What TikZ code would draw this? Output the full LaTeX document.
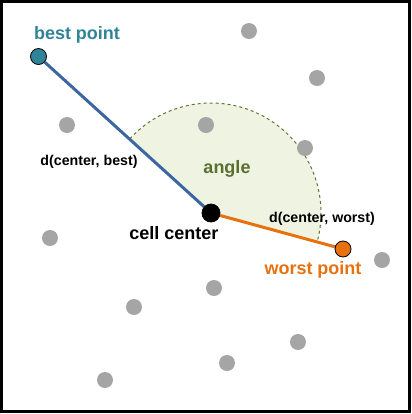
\documentclass[tikz,border=0pt]{standalone}
\usepackage{fontspec}
\setmainfont{Liberation Sans}
\usetikzlibrary{backgrounds}

\definecolor{bestteal}{HTML}{2F8497}
\definecolor{bestblue}{HTML}{3C66A0}
\definecolor{worstorange}{HTML}{E8710F}
\definecolor{othergray}{HTML}{A5A5A5}
\definecolor{anglefill}{HTML}{EEF3E2}
\definecolor{angletext}{HTML}{5B7030}
\definecolor{angledash}{HTML}{5E7634}

\tikzset{
	dot/.style={circle, inner sep=0pt, minimum size=8pt},
	otherdot/.style={dot, fill=othergray},
	keydot/.style={dot, draw=black, line width=0.4pt},
	biglabel/.style={font=\fontsize{9}{10}\selectfont\bfseries},
	distlabel/.style={font=\fontsize{7.1}{8.5}\selectfont\bfseries}
}

\begin{document}
\begin{tikzpicture}[x=0.5pt, y=-0.5pt]
		\useasboundingbox (0,0) rectangle (412,414);

		% --- outer frame ---
		\draw[line width=1.5pt] (1.5,1.5) rectangle (409.5,411);

		% --- other sample points (gray) ---
		\foreach \px/\py [count=\i] in {67/125, 206/125, 249/31, 317/78, 305/148, 50/238,
			134/307, 105/380, 382/260, 214/288, 298/342, 227/363} {
			\node[otherdot] (p\i) at (\px,\py) {};
		}

		% --- key points ---
		\node[keydot, fill=black, minimum size=9pt] (ctr) at (211,213) {};
		\node[keydot, fill=bestteal] (best) at (38.5,56.5) {};
		\node[keydot, fill=worstorange] (worst) at (343,249) {};

		% --- labels ---
		\node[biglabel, text=bestteal] (bestlbl) at (77,35) {best point};
		\node[biglabel, text=worstorange] (worstlbl) at (313,270) {worst point};
		\node[biglabel] (ctrlbl) at (174,233) {cell center};
		\node[biglabel, text=angletext] (anglelbl) at (227,169) {angle};
		\node[distlabel] (dbest) at (89,162) {d(center, best)};
		\node[distlabel] (dworst) at (322,219) {d(center, worst)};

		% --- angle sector and distance lines (below the dots) ---
		\begin{scope}[on background layer]
			\fill[anglefill] (ctr.center) -- ++(-137.6:110) arc[start angle=-137.6, end angle=14, radius=110] -- cycle;
			\draw[angledash, line width=0.5pt, dash pattern=on 1.5pt off 1.5pt]
				(ctr.center) ++(-137.6:110) arc[start angle=-137.6, end angle=14, radius=110];
			\draw[bestblue, line width=1.5pt] (best) -- (ctr);
			\draw[worstorange, line width=1.5pt] (ctr) -- (worst);
		\end{scope}
	\end{tikzpicture}
\end{document}
